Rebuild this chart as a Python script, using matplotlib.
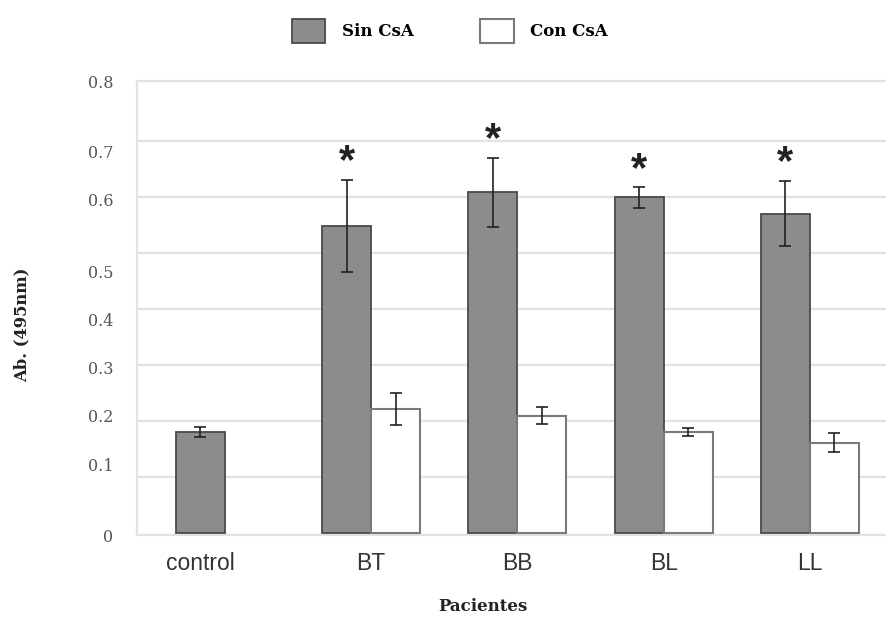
import matplotlib.pyplot as plt
import numpy as np

groups = ['control', 'BT', 'BB', 'BL', 'LL']
sin_csa = [0.180, 0.548, 0.608, 0.599, 0.570]
sin_err = [0.009, 0.082, 0.061, 0.018, 0.058]
con_csa = [None, 0.221, 0.209, 0.180, 0.161]
con_err = [None, 0.028, 0.015, 0.008, 0.017]
signif = [False, True, True, True, True]

# the y labels sit slightly off the grid lines in the original
ytick_pos = [-0.004, 0.122, 0.209, 0.295, 0.381, 0.467, 0.595, 0.681, 0.807]
ytick_lab = ['0', '0.1', '0.2', '0.3', '0.4', '0.5', '0.6', '0.7', '0.8']

fig = plt.figure(figsize=(8.86, 6.18), dpi=100)
ax = fig.add_axes([0.1546, 0.1343, 0.8454, 0.7346])

x = np.arange(len(groups))
w = 0.335

dark = '#8c8c8c'
ax.bar(x - w / 2, sin_csa, w, color=dark, edgecolor='#4a4a4a', linewidth=1.3,
       zorder=3, label='Sin CsA')
ax.errorbar(x - w / 2, sin_csa, yerr=sin_err, fmt='none', ecolor='#222222',
            elinewidth=1.2, capsize=4.5, capthick=1.2, zorder=4)

xc = x[1:] + w / 2
ax.bar(xc, con_csa[1:], w, color='white', edgecolor='#7a7a7a', linewidth=1.5,
       zorder=3, label='Con CsA')
ax.errorbar(xc, con_csa[1:], yerr=con_err[1:], fmt='none', ecolor='#222222',
            elinewidth=1.2, capsize=4.5, capthick=1.2, zorder=4)

for xi, v, e, s in zip(x, sin_csa, sin_err, signif):
    if s:
        ax.text(xi - w / 2, v + e + 0.012, '*', ha='center', va='baseline',
                fontsize=30, fontweight='bold', color='#222222',
                family='Liberation Sans', zorder=5)

ax.set_xlim(-0.60, 4.52)
ax.set_ylim(0, 0.8)

ax.set_yticks([0.1, 0.2, 0.3, 0.4, 0.5, 0.6, 0.7], minor=True)
ax.grid(True, which='minor', axis='y', color='#e2e2e2', linewidth=1.6, zorder=0)
ax.set_yticks(ytick_pos)
ax.set_yticklabels(ytick_lab, family='DejaVu Serif', fontsize=11.5,
                   color='#555555')
ax.tick_params(axis='y', which='both', length=0, pad=17)

xt = [x[0] - w / 2] + list(x[1:])
ax.set_xticks(xt)
ax.set_xticklabels(groups, family='Liberation Sans', fontsize=16.5,
                   color='#333333')
ax.tick_params(axis='x', length=0, pad=12)

ax.spines['right'].set_visible(False)
for side in ['left', 'top', 'bottom']:
    ax.spines[side].set_color('#e2e2e2')
    ax.spines[side].set_linewidth(1.6)

fig.text(0.025, 0.474, 'Ab. (495nm)', rotation=90, ha='center', va='center',
         family='DejaVu Serif', fontweight='bold', fontsize=11.8,
         color='#222222')
fig.text(0.545, 0.018, 'Pacientes', ha='center', va='center',
         family='DejaVu Serif', fontweight='bold', fontsize=12,
         color='#222222')

fig.legend(loc='center', bbox_to_anchor=(0.508, 0.95), ncol=2, frameon=False,
           prop={'family': 'DejaVu Serif', 'weight': 'bold', 'size': 12},
           handlelength=2.0, handleheight=1.9, handletextpad=1.0,
           columnspacing=4.0)

fig.savefig('out.png', dpi=100)
